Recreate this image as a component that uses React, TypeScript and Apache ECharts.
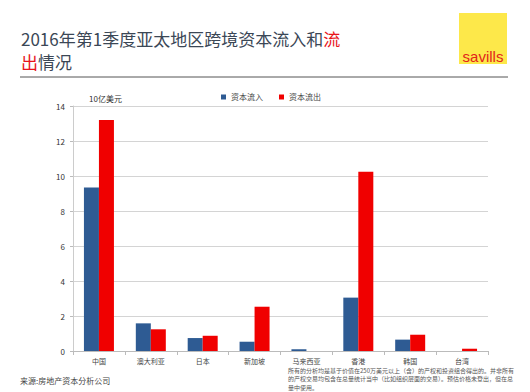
import React, { useEffect, useRef } from "react";
import * as echarts from "echarts";

const categories = ["中国", "澳大利亚", "日本", "新加坡", "马来西亚", "香港", "韩国", "台湾"];
const inflow = [9.35, 1.58, 0.74, 0.53, 0.1, 3.05, 0.65, 0];
const outflow = [13.2, 1.24, 0.87, 2.53, 0, 10.25, 0.93, 0.13];
const seriesNames = ["资本流入", "资本流出"];
const unitLabel = "10亿美元";
const footnoteLines = [
  "所有的分析均是基于价值在250万美元以上（含）的产权和投资组合得出的。并非所有",
  "的产权交易均包含在总量统计当中（比如组织层面的交易）。预估价格未登出，但在总",
  "量中使用。",
];
const sourceText = "来源:房地产资本分析公司";

const FONT = "'Noto Sans CJK SC', 'Noto Sans', sans-serif";

export default function App() {
  const ref = useRef<HTMLDivElement>(null);
  useEffect(() => {
    if (!ref.current) return;
    const chart = echarts.init(ref.current, null, { renderer: "svg" });
    const rich = {
      a: { fontSize: 17, lineHeight: 23, fill: "#3b4756", fontFamily: FONT },
      r: { fontSize: 17, lineHeight: 23, fill: "#e8141b", fontFamily: FONT },
    };
    chart.setOption({
      animation: false,
      backgroundColor: "#ffffff",
      textStyle: { fontFamily: FONT },
      grid: { left: 73, right: 42, top: 106, bottom: 41, containLabel: false },
      legend: {
        data: seriesNames,
        left: 216,
        top: 88,
        itemWidth: 5,
        itemHeight: 5,
        itemGap: 16,
        icon: "rect",
        textStyle: { fontSize: 8, color: "#444", fontFamily: FONT },
      },
      xAxis: {
        type: "category",
        data: categories,
        axisLine: { lineStyle: { color: "#bbb" } },
        axisTick: { show: true, lineStyle: { color: "#bbb" }, length: 4 },
        axisLabel: { fontSize: 7, color: "#444", margin: 6, fontFamily: FONT },
      },
      yAxis: {
        type: "value",
        min: 0,
        max: 14,
        interval: 2,
        axisLine: { show: true, lineStyle: { color: "#ccc" } },
        axisTick: { show: true, length: 3, lineStyle: { color: "#bbb" } },
        axisLabel: { fontSize: 8, color: "#333", margin: 8, fontFamily: FONT },
        splitLine: { lineStyle: { color: "#d4d4d4" } },
      },
      series: [
        {
          name: seriesNames[0],
          type: "bar",
          data: inflow,
          barWidth: 15,
          barGap: "0%",
          itemStyle: { color: "#2e5b93" },
        },
        {
          name: seriesNames[1],
          type: "bar",
          data: outflow,
          barWidth: 15,
          itemStyle: { color: "#f00000" },
        },
      ],
      graphic: [
        {
          type: "text",
          left: 21,
          top: 30,
          style: {
            text: "{a|2016年第1季度亚太地区跨境资本流入和}{r|流}\n{r|出}{a|情况}",
            rich,
          },
        },
        {
          type: "line",
          shape: { x1: 20, y1: 77, x2: 508, y2: 77 },
          style: { stroke: "#555", lineWidth: 1 },
        },
        {
          type: "rect",
          shape: { x: 459, y: 13, width: 48, height: 51 },
          style: { fill: "#fde84a" },
        },
        {
          type: "text",
          x: 483,
          y: 56,
          style: {
            text: "savills",
            fontSize: 15,
            fill: "#e2231a",
            fontFamily: "'Liberation Sans Narrow', 'Liberation Sans', Arial, sans-serif",
            align: "center",
            verticalAlign: "middle",
          },
        },
        {
          type: "text",
          left: 89,
          top: 94,
          style: { text: unitLabel, fontSize: 8, fill: "#333", fontFamily: FONT },
        },
        {
          type: "text",
          left: 20,
          top: 376,
          style: { text: sourceText, fontSize: 8, fill: "#444", fontFamily: FONT },
        },
        {
          type: "text",
          left: 288,
          top: 366,
          style: {
            text: footnoteLines.join("\n"),
            fontSize: 6,
            lineHeight: 8.5,
            fill: "#555",
            fontFamily: FONT,
          },
        },
      ],
    });
    return () => chart.dispose();
  }, []);
  return <div ref={ref} style={{ width: 530, height: 392, position: "absolute", left: 0, top: 0 }} />;
}
